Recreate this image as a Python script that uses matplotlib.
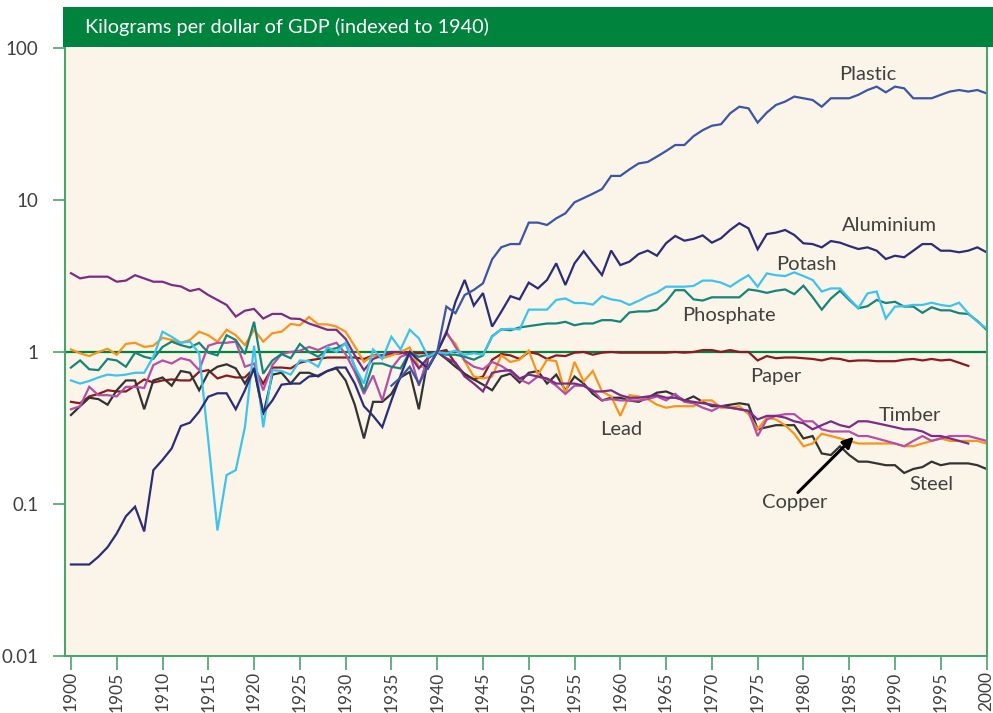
import numpy as np
import matplotlib
matplotlib.use("Agg")
import matplotlib.pyplot as plt
from matplotlib.patches import Rectangle

# ---------------- data ----------------
years_full = list(range(1900, 2001))
years_to_1998 = list(range(1900, 1999))
years_plastic = list(range(1935, 2001))

aluminium = [0.04, 0.04, 0.04, 0.045, 0.052,
             0.064, 0.083, 0.096, 0.066, 0.167,
             0.195, 0.232, 0.326, 0.343, 0.405,
             0.508, 0.535, 0.535, 0.42, 0.56,
             0.78, 0.40, 0.48, 0.61, 0.62,
             0.62, 0.69, 0.70, 0.75, 0.79,
             0.79, 0.62, 0.44, 0.38, 0.32,
             0.48, 0.70, 1.0, 0.88, 0.78,
             1.0, 1.33, 2.14, 2.98, 2.02,
             2.44, 1.47, 1.84, 2.33, 2.22,
             2.86, 2.62, 2.98, 3.83, 2.76,
             3.83, 4.6, 3.83, 3.21, 4.65,
             3.73, 3.93, 4.41, 4.65, 4.3,
             5.2, 5.8, 5.4, 5.55, 5.85,
             5.24, 5.6, 6.35, 7.03, 6.51,
             4.74, 5.97, 6.1, 6.35, 5.89,
             5.19, 5.13, 4.88, 5.37, 5.24,
             4.98, 4.76, 4.88, 4.64, 4.09,
             4.3, 4.2, 4.64, 5.13, 5.13,
             4.64, 4.64, 4.53, 4.64, 4.88,
             4.53]

plastic = [0.6, 0.68, 0.8, 0.62, 0.8,
           1.0, 1.99, 1.8, 2.37, 2.56,
           2.83, 4.07, 4.89, 5.13, 5.13,
           7.1, 7.1, 6.85, 7.57, 8.17,
           9.66, 10.3, 11.0, 11.8, 14.4,
           14.4, 15.9, 17.4, 17.8, 19.3,
           21.0, 23.0, 23.0, 26.3, 28.8,
           30.8, 31.5, 37.2, 41.1, 40.1,
           32.3, 37.6, 42.2, 44.4, 47.9,
           46.7, 45.5, 41.1, 46.7, 46.7,
           46.7, 49.2, 52.9, 55.7, 51.1,
           55.7, 54.3, 46.7, 46.7, 46.7,
           49.2, 51.7, 52.9, 51.7, 52.9,
           50.3]

potash = [0.65, 0.62, 0.645, 0.68, 0.71,
          0.70, 0.71, 0.73, 0.73, 0.93,
          1.36, 1.26, 1.15, 1.17, 0.98,
          0.26, 0.067, 0.155, 0.167, 0.32,
          1.1, 0.32, 0.76, 0.75, 0.71,
          0.88, 0.87, 0.8, 1.08, 1.0,
          1.15, 0.8, 0.62, 1.04, 0.9,
          1.26, 1.04, 1.4, 1.23, 0.93,
          1.0, 0.98, 1.02, 0.96, 0.98,
          0.96, 1.26, 1.41, 1.42, 1.41,
          1.9, 1.9, 1.9, 2.2, 2.25,
          2.1, 2.1, 2.05, 2.33, 2.22,
          2.17, 2.04, 2.17, 2.33, 2.46,
          2.69, 2.69, 2.69, 2.72, 2.95,
          2.95, 2.86, 2.69, 2.95, 3.2,
          2.69, 3.29, 3.2, 3.16, 3.34,
          3.16, 2.98, 2.5, 2.62, 2.62,
          2.25, 1.94, 2.43, 2.5, 1.66,
          1.99, 2.0, 2.04, 2.04, 2.11,
          2.04, 2.0, 2.11, 1.8, 1.58,
          1.43]

phosphate = [0.79, 0.88, 0.77, 0.76, 0.9,
             0.88, 0.8, 0.99, 0.93, 0.9,
             1.08, 1.17, 1.11, 1.07, 1.15,
             0.99, 0.95, 1.29, 1.2, 0.97,
             1.58, 0.72, 0.88, 0.97, 0.91,
             1.13, 1.0, 0.93, 1.03, 1.06,
             1.14, 0.8, 0.55, 0.84, 0.84,
             0.8, 0.78, 1.0, 0.93, 0.96,
             1.0, 0.96, 0.96, 0.93, 0.89,
             0.95, 1.27, 1.41, 1.39, 1.45,
             1.48, 1.51, 1.54, 1.54, 1.58,
             1.5, 1.54, 1.54, 1.62, 1.62,
             1.58, 1.82, 1.85, 1.85, 1.9,
             2.14, 2.55, 2.55, 2.22, 2.18,
             2.29, 2.29, 2.29, 2.29, 2.58,
             2.53, 2.45, 2.53, 2.58, 2.4,
             2.73, 2.3, 1.9, 2.25, 2.53,
             2.2, 1.94, 2.0, 2.2, 2.1,
             2.14, 1.99, 1.99, 1.81, 1.97,
             1.88, 1.88, 1.8, 1.78, 1.6,
             1.4]

paper = [0.47, 0.46, 0.51, 0.53, 0.56,
         0.55, 0.55, 0.6, 0.66, 0.63,
         0.65, 0.66, 0.65, 0.65, 0.74,
         0.76, 0.67, 0.7, 0.68, 0.68,
         0.78, 0.62, 0.79, 0.79, 0.78,
         0.85, 0.88, 0.9, 0.92, 0.92,
         0.92, 0.92, 0.9, 0.95, 0.95,
         0.97, 0.98, 1.0, 0.98, 0.99,
         1.0, 1.03, 0.84, 0.71, 0.66,
         0.69, 0.89, 0.97, 0.95, 0.9,
         1.0, 0.97, 0.9, 0.95, 0.94,
         0.99, 1.0, 0.96, 0.99, 1.0,
         0.99, 0.99, 0.99, 0.99, 0.99,
         0.99, 1.0, 0.99, 1.0, 1.03,
         1.03, 1.0, 1.03, 1.0, 1.0,
         0.88, 0.94, 0.91, 0.92, 0.92,
         0.91, 0.9, 0.88, 0.91, 0.9,
         0.87, 0.88, 0.88, 0.87, 0.87,
         0.87, 0.89, 0.9, 0.88, 0.9,
         0.88, 0.89, 0.85, 0.81]

timber = [3.3, 3.05, 3.13, 3.13, 3.13,
          2.9, 2.95, 3.2, 3.05, 2.9,
          2.9, 2.76, 2.7, 2.52, 2.6,
          2.37, 2.2, 2.04, 1.71, 1.87,
          1.92, 1.66, 1.78, 1.78, 1.66,
          1.65, 1.54, 1.47, 1.4, 1.4,
          1.22, 0.95, 0.76, 0.9, 0.95,
          1.0, 1.0, 0.95, 0.78, 0.92,
          1.0, 0.91, 0.85, 0.69, 0.62,
          0.55, 0.73, 0.75, 0.76, 0.67,
          0.71, 0.69, 0.67, 0.62, 0.62,
          0.62, 0.6, 0.55, 0.55, 0.56,
          0.52, 0.5, 0.5, 0.51, 0.52,
          0.5, 0.5, 0.48, 0.47, 0.46,
          0.45, 0.44, 0.43, 0.42, 0.41,
          0.36, 0.38, 0.38, 0.37, 0.35,
          0.34, 0.31, 0.33, 0.35, 0.33,
          0.32, 0.35, 0.35, 0.34, 0.33,
          0.32, 0.31, 0.31, 0.3, 0.28,
          0.28, 0.27, 0.26, 0.25]

copper = [0.42, 0.44, 0.59, 0.52, 0.52,
          0.51, 0.59, 0.59, 0.58, 0.82,
          0.88, 0.84, 0.91, 0.88, 0.76,
          1.1, 1.15, 1.15, 1.17, 0.8,
          0.84, 0.56, 0.82, 0.97, 1.0,
          1.02, 1.08, 1.03, 1.1, 1.15,
          0.97, 0.74, 0.53, 0.7, 0.48,
          0.78, 0.93, 0.98, 0.6, 0.93,
          1.0, 1.36, 1.08, 0.88, 0.8,
          0.77, 0.86, 0.81, 0.74, 0.66,
          0.62, 0.69, 0.66, 0.6, 0.53,
          0.6, 0.6, 0.56, 0.48, 0.49,
          0.48, 0.48, 0.48, 0.49, 0.51,
          0.48, 0.53, 0.47, 0.46, 0.43,
          0.41, 0.44, 0.43, 0.42, 0.41,
          0.28, 0.36, 0.38, 0.39, 0.39,
          0.35, 0.35, 0.31, 0.3, 0.3,
          0.3, 0.28, 0.28, 0.27, 0.26,
          0.25, 0.24, 0.26, 0.28, 0.26,
          0.27, 0.28, 0.28, 0.28, 0.27,
          0.26]

lead = [1.04, 0.98, 0.94, 1.0, 1.05,
        0.96, 1.13, 1.15, 1.08, 1.1,
        1.24, 1.2, 1.15, 1.2, 1.36,
        1.29, 1.17, 1.4, 1.29, 1.11,
        1.4, 1.17, 1.33, 1.36, 1.53,
        1.5, 1.7, 1.52, 1.52, 1.47,
        1.36, 1.09, 0.86, 0.95, 0.91,
        0.95, 1.0, 1.07, 0.8, 0.8,
        1.0, 1.32, 1.13, 0.87, 0.69,
        0.67, 0.69, 0.95, 0.86, 0.89,
        1.02, 0.71, 0.89, 0.87, 0.53,
        0.86, 0.64, 0.75, 0.55, 0.51,
        0.38, 0.52, 0.51, 0.49, 0.45,
        0.43, 0.44, 0.44, 0.44, 0.48,
        0.48, 0.43, 0.43, 0.44, 0.39,
        0.31, 0.37, 0.36, 0.33, 0.29,
        0.24, 0.25, 0.29, 0.28, 0.27,
        0.26, 0.25, 0.25, 0.25, 0.25,
        0.25, 0.24, 0.24, 0.25, 0.26,
        0.27, 0.26, 0.26, 0.26, 0.26,
        0.25]

steel = [0.385, 0.44, 0.5, 0.49, 0.45,
         0.56, 0.65, 0.65, 0.42, 0.65,
         0.68, 0.6, 0.75, 0.73, 0.56,
         0.73, 0.8, 0.83, 0.78, 0.62,
         0.78, 0.385, 0.71, 0.73, 0.62,
         0.73, 0.73, 0.69, 0.75, 0.78,
         0.65, 0.45, 0.27, 0.47, 0.47,
         0.53, 0.68, 0.74, 0.42, 0.91,
         1.0, 0.9, 0.8, 0.72, 0.66,
         0.61, 0.56, 0.69, 0.72, 0.63,
         0.73, 0.75, 0.62, 0.71, 0.56,
         0.69, 0.62, 0.53, 0.48, 0.5,
         0.5, 0.48, 0.47, 0.5, 0.54,
         0.55, 0.52, 0.48, 0.51, 0.47,
         0.44, 0.44, 0.45, 0.46, 0.45,
         0.31, 0.32, 0.33, 0.33, 0.33,
         0.27, 0.28, 0.215, 0.21, 0.24,
         0.21, 0.19, 0.19, 0.185, 0.18,
         0.18, 0.16, 0.17, 0.175, 0.19,
         0.18, 0.185, 0.185, 0.185, 0.18,
         0.17]

series = [
    # name, years, values, colour
    ("Paper", years_to_1998, paper, "#8B1A1E"),
    ("Steel", years_full, steel, "#333333"),
    ("Lead", years_full, lead, "#F7941D"),
    ("Copper", years_full, copper, "#B54FA6"),
    ("Timber", years_to_1998, timber, "#7B2C84"),
    ("Phosphate", years_full, phosphate, "#16847A"),
    ("Potash", years_full, potash, "#3DC3EE"),
    ("Aluminium", years_full, aluminium, "#2B2D78"),
    ("Plastic", years_plastic, plastic, "#3C55A5"),
]

# label anchors (year, value)
label_pos = {
    "Plastic": (1987.0, 67),
    "Aluminium": (1989.4, 6.75),
    "Potash": (1980.3, 3.74),
    "Phosphate": (1971.9, 1.73),
    "Paper": (1977.0, 0.685),
    "Timber": (1991.6, 0.38),
    "Lead": (1960.1, 0.307),
    "Copper": (1979.0, 0.103),
    "Steel": (1994.0, 0.135),
}
arrow_from = (1979.4, 0.119)
arrow_to = (1985.5, 0.277)

title = "Kilograms per dollar of GDP (indexed to 1940)"
ytick_vals = [0.01, 0.1, 1, 10, 100]
ytick_labels = ["0.01", "0.1", "1", "10", "100"]
xtick_vals = list(range(1900, 2001, 5))

# ---------------- plot ----------------
plt.rcParams['font.family'] = ['Lato', 'DejaVu Sans']
W, H = 993, 713
fig = plt.figure(figsize=(W / 100, H / 100), dpi=100)
fig.patch.set_facecolor("white")

left, right, bottom, top = 65, 987, 656, 48
ax = fig.add_axes([left / W, 1 - bottom / H, (right - left) / W, (bottom - top) / H])
ax.set_facecolor("#FBF5E9")

green = "#00843D"
spine_green = "#4BA36E"
text_col = "#404040"

ax.axhline(1, color=green, lw=1.6, zorder=1)

for name, yrs, vals, col in series:
    ax.plot(yrs, vals, color=col, lw=1.6, zorder=2, solid_joinstyle="miter")

ax.set_yscale("log")
ax.set_ylim(0.01, 100)
ax.set_xlim(1899.35, 2000.05)
ax.set_yticks(ytick_vals)
ax.set_yticklabels(ytick_labels)
ax.yaxis.set_minor_locator(matplotlib.ticker.NullLocator())
ax.set_xticks(xtick_vals)
ax.set_xticklabels([str(y) for y in xtick_vals], rotation=90)

ax.tick_params(axis="y", direction="out", length=9, width=1.2, color=spine_green,
               labelsize=13.5, labelcolor=text_col, pad=10)
ax.tick_params(axis="x", direction="out", length=10, width=1.2, color=spine_green,
               labelsize=12.5, labelcolor=text_col, pad=1)

for s in ["left", "bottom", "right"]:
    ax.spines[s].set_color(spine_green)
    ax.spines[s].set_linewidth(1.5)
ax.spines["top"].set_visible(False)

for name, (x, y) in label_pos.items():
    ax.text(x, y, name, ha="center", va="center", fontsize=14.5, color=text_col,
            zorder=5)

ax.annotate("", xy=arrow_to, xytext=arrow_from,
            arrowprops=dict(arrowstyle="-|>", color="black", lw=2.2,
                            mutation_scale=16, shrinkA=0, shrinkB=0), zorder=6)

# title bar
fig.patches.append(Rectangle((63 / W, 1 - 47 / H), (W - 63) / W, 40 / H,
                             transform=fig.transFigure, facecolor=green,
                             edgecolor="none", zorder=0))
fig.text(85 / W, 1 - 27 / H, title, color="white", fontsize=14.3,
         ha="left", va="center")

fig.savefig("out.png", dpi=100)
